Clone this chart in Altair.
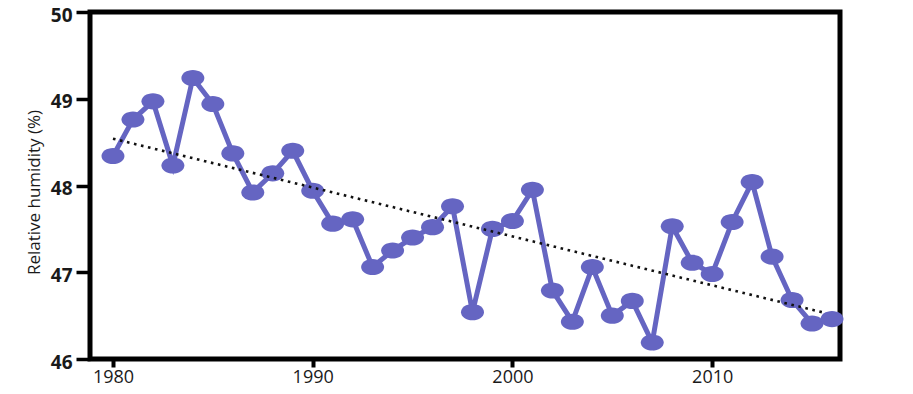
import altair as alt
import pandas as pd

years = list(range(1980, 2017))
humidity = [48.34, 48.76, 48.97, 48.23, 49.24, 48.94, 48.37, 47.92, 48.14, 48.40,
            47.94, 47.56, 47.61, 47.06, 47.25, 47.40, 47.52, 47.76, 46.54, 47.50,
            47.59, 47.95, 46.79, 46.43, 47.06, 46.50, 46.67, 46.19, 47.53, 47.11,
            46.98, 47.58, 48.04, 47.18, 46.68, 46.41, 46.46]
trend_years = [1980, 2015.5]
trend_values = [48.54, 46.54]
x_ticks = [1980, 1990, 2000, 2010]
y_ticks = [46, 47, 48, 49, 50]

df = pd.DataFrame({"year": years, "rh": humidity})
tdf = pd.DataFrame({"year": trend_years, "rh": trend_values})

color = "#6565C2"
ellipse = ("M-1,0C-1,-0.387,-0.552,-0.7,0,-0.7C0.552,-0.7,1,-0.387,1,0"
           "C1,0.387,0.552,0.7,0,0.7C-0.552,0.7,-1,0.387,-1,0Z")

xscale = alt.Scale(domain=[1978.85, 2016.4], nice=False, zero=False)
yscale = alt.Scale(domain=[46, 50], nice=False, zero=False)

xaxis = alt.Axis(values=x_ticks, format="d", title=None, grid=False, domain=False,
                 tickSize=8, tickWidth=4, tickColor="black",
                 labelFont="Open Sans", labelFontSize=18, labelColor="#1a1a1a",
                 labelPadding=1)
yaxis = alt.Axis(values=y_ticks, format="d", title="Relative humidity (%)", grid=False,
                 domain=False, tickSize=14, tickWidth=3.5, tickColor="black",
                 labelFont="Open Sans", labelFontSize=19, labelFontWeight="bold",
                 labelColor="#1a1a1a", labelPadding=4, labelOffset=3,
                 titleFont="Open Sans", titleFontSize=17, titleFontWeight="normal",
                 titleColor="#1a1a1a", titleX=-56, titleY=180, titleAngle=-90,
                 titleAlign="center", titleBaseline="middle")

base = alt.Chart(df).encode(
    x=alt.X("year:Q", scale=xscale, axis=xaxis),
    y=alt.Y("rh:Q", scale=yscale, axis=yaxis),
)

line = base.mark_line(color=color, strokeWidth=5)
points = base.mark_point(filled=True, shape=ellipse, size=529, color=color, opacity=1)

trend = alt.Chart(tdf).mark_line(color="#111111", strokeWidth=2.6,
                                 strokeDash=[2.6, 4.6]).encode(
    x=alt.X("year:Q", scale=xscale),
    y=alt.Y("rh:Q", scale=yscale),
)

chart = alt.layer(line, points, trend).properties(
    width=750, height=347,
    background="white",
    autosize=alt.AutoSizeParams(type="none"),
    padding={"left": 82, "top": 4, "right": 65, "bottom": 27},
).configure_view(
    stroke="black", strokeWidth=5
)

chart.save("out.html", embed_options={"renderer": "svg", "actions": False})
